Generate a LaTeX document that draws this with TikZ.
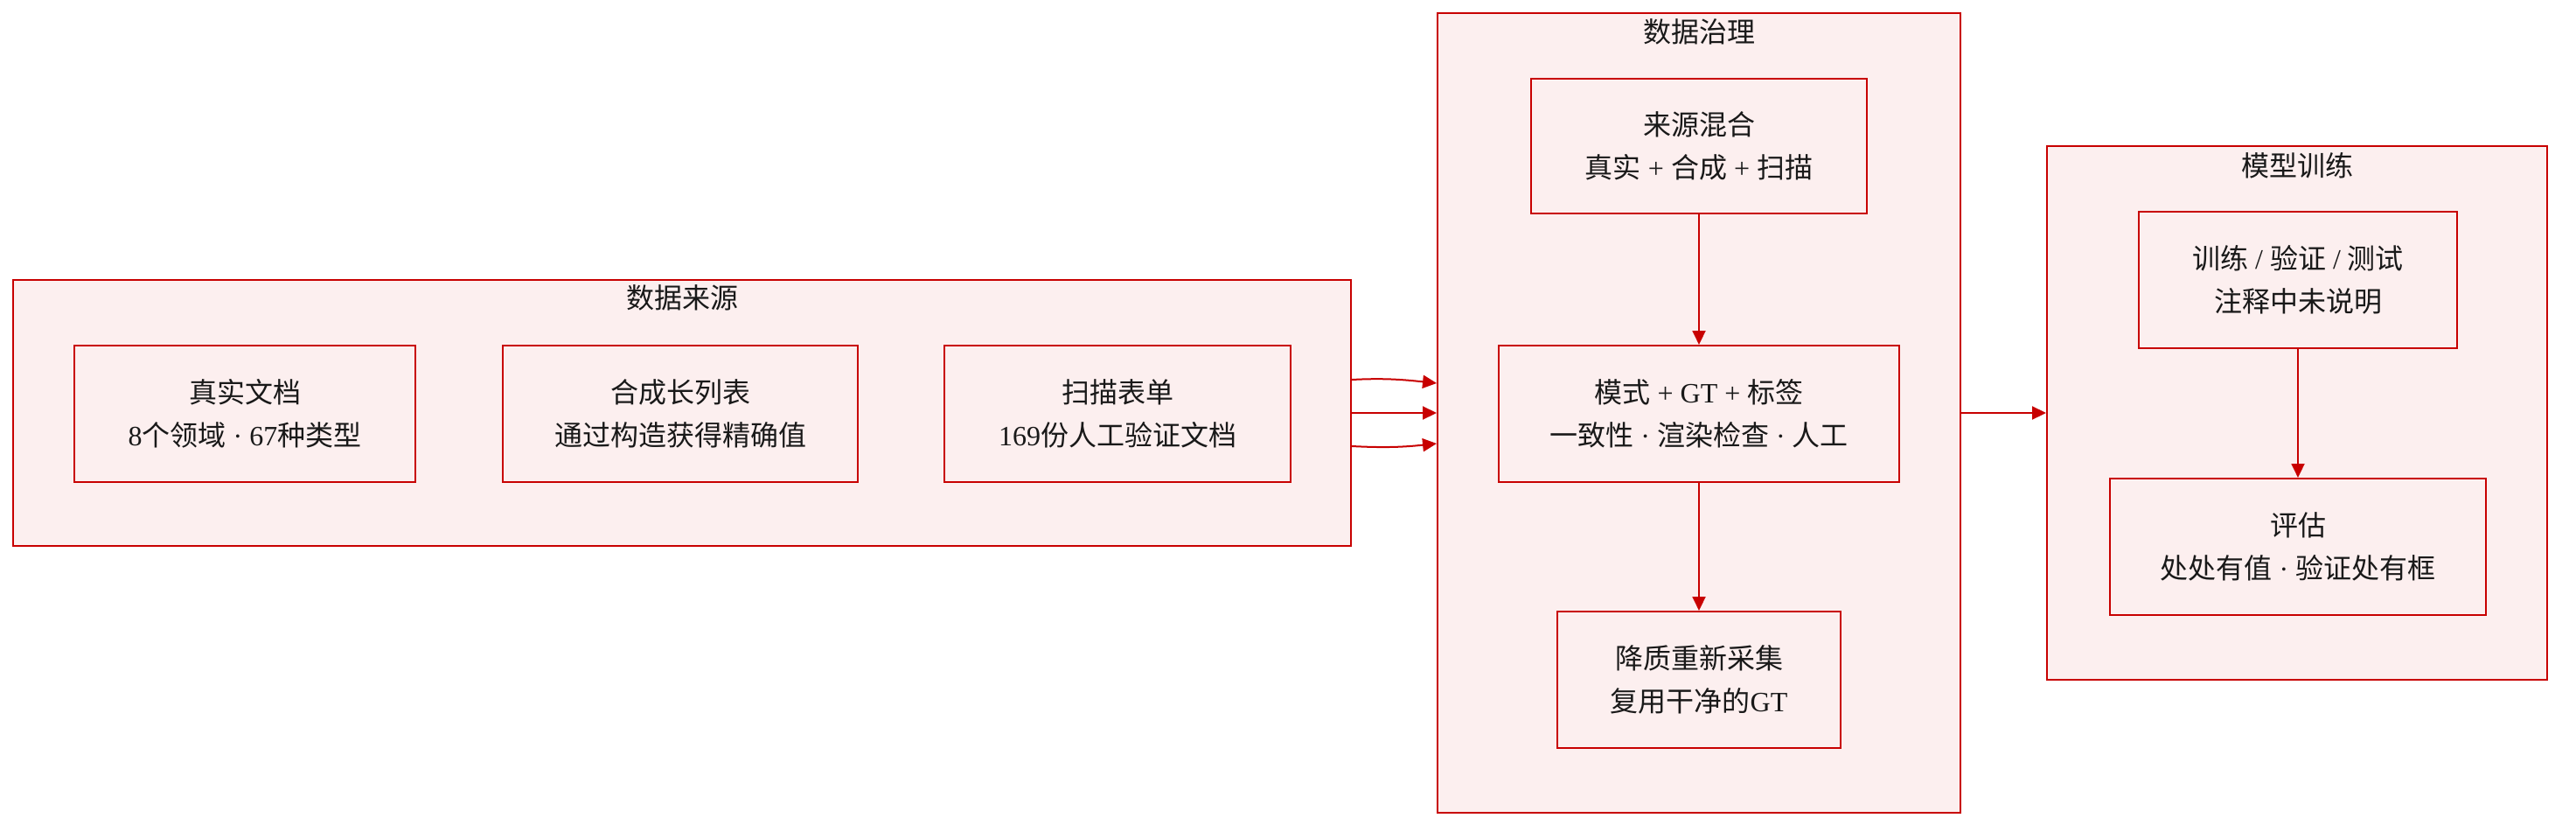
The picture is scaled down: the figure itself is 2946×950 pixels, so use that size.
\documentclass[tikz,border=0pt]{standalone}
\usepackage{fontspec}
\setmainfont{Liberation Serif}
\newfontfamily\cjk{Noto Sans CJK SC}
\newcommand\zh[1]{{\cjk #1}}
\usetikzlibrary{arrows.meta}
\definecolor{redline}{RGB}{200,0,0}
\definecolor{pinkfill}{RGB}{252,239,239}
\definecolor{txt}{RGB}{25,25,25}
\tikzset{
  cluster/.style={draw=redline, fill=pinkfill, line width=2pt, inner sep=0pt},
  box/.style={draw=redline, fill=pinkfill, line width=2pt, inner sep=0pt, align=center,
    text=txt, font=\fontsize{32pt}{49pt}\selectfont},
  ctitle/.style={text=txt, font=\fontsize{32pt}{49pt}\selectfont\cjk, inner sep=0pt},
  arr/.style={draw=redline, line width=2pt, -{Triangle[length=16pt,width=15pt]}}
}
\begin{document}
\begin{tikzpicture}[x=1pt,y=-1pt]
\useasboundingbox (0,0) rectangle (2946,950);
% clusters
\node[cluster, minimum width=1530pt, minimum height=304pt] (srcC) at (780,472) {};
\node[ctitle] (srcT) at (780,340) {数据来源};
\node[cluster, minimum width=598pt, minimum height=914pt] (govC) at (1943,472) {};
\node[ctitle] (govT) at (1943,36) {数据治理};
\node[cluster, minimum width=572pt, minimum height=610pt] (trainC) at (2627,472) {};
\node[ctitle] (trainT) at (2627,189) {模型训练};
% source nodes
\node[box, minimum width=390pt, minimum height=156pt] (real) at (280,473)
  {\zh{真实文档}\\8\zh{个领域} · 67\zh{种类型}};
\node[box, minimum width=406pt, minimum height=156pt] (synth) at (778,473)
  {\zh{合成长列表}\\\zh{通过构造获得精确值}};
\node[box, minimum width=396pt, minimum height=156pt] (scan) at (1278,473)
  {\zh{扫描表单}\\169\zh{份人工验证文档}};
% governance nodes
\node[box, minimum width=384pt, minimum height=154pt] (mix) at (1943,167)
  {\zh{来源混合}\\\zh{真实} + \zh{合成} + \zh{扫描}};
\node[box, minimum width=458pt, minimum height=156pt] (mode) at (1943,473)
  {\zh{模式} + GT + \zh{标签}\\\zh{一致性} · \zh{渲染检查} · \zh{人工}};
\node[box, minimum width=324pt, minimum height=156pt] (deg) at (1943,777)
  {\zh{降质重新采集}\\\zh{复用干净的}GT};
% training nodes
\node[box, minimum width=364pt, minimum height=156pt] (tv) at (2628,320)
  {\zh{训练} / \zh{验证} / \zh{测试}\\\zh{注释中未说明}};
\node[box, minimum width=430pt, minimum height=156pt] (ev) at (2628,625)
  {\zh{评估}\\\zh{处处有值} · \zh{验证处有框}};
% connectors
\draw[arr] ([yshift=38pt]srcC.east) to[out=3,in=174] ([yshift=34pt]govC.west);
\draw[arr] (srcC.east) -- (govC.west);
\draw[arr] ([yshift=-38pt]srcC.east) to[out=-3,in=186] ([yshift=-35pt]govC.west);
\draw[arr] (govC.east) -- (trainC.west);
\draw[arr] (mix.south) -- (mode.north);
\draw[arr] (mode.south) -- (deg.north);
\draw[arr] (tv.south) -- (ev.north);
\end{tikzpicture}
\end{document}
